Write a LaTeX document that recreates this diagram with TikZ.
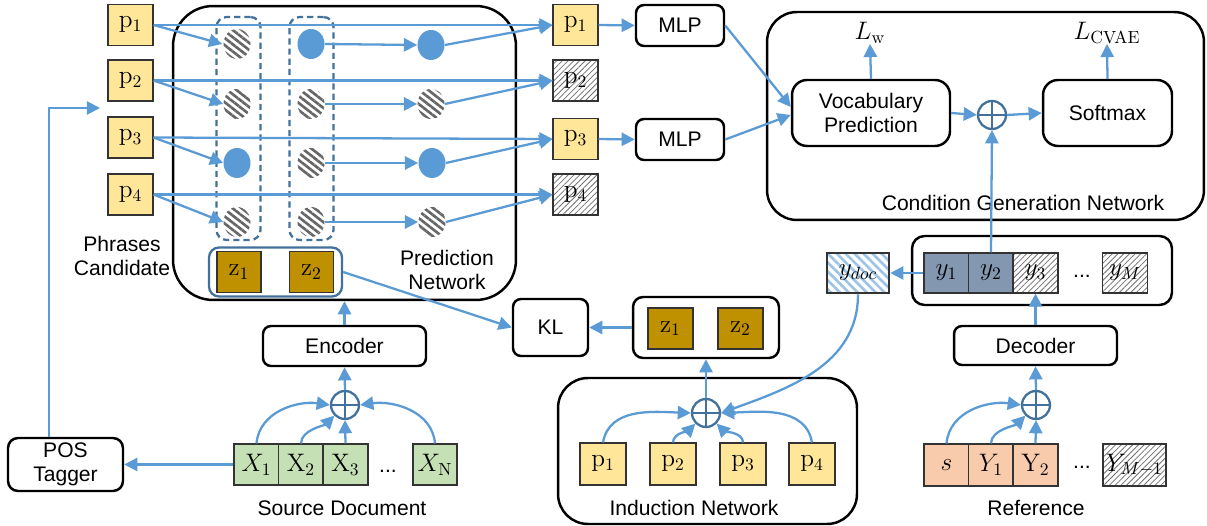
\documentclass[tikz,border=0pt]{standalone}
\usepackage[no-math]{fontspec}
\newfontfamily\arialf{Liberation Sans}
\usetikzlibrary{arrows.meta,patterns,patterns.meta,shapes.geometric,calc}
\definecolor{lineblue}{HTML}{5B9BD5}
\definecolor{darkblue}{HTML}{41719C}
\definecolor{pyellow}{HTML}{FFE699}
\definecolor{zgold}{HTML}{BF9000}
\definecolor{xgreen}{HTML}{C5E0B4}
\definecolor{ysalmon}{HTML}{F8CBAD}
\definecolor{yslate}{HTML}{8497B0}
\definecolor{docblue}{HTML}{9DC3E6}
\definecolor{hatchgray}{HTML}{707070}
\definecolor{stripegray}{HTML}{666666}
\newcommand{\labfont}{\arialf\fontsize{12}{14}\selectfont}
\newcommand{\mathsz}{\fontsize{14.5}{16}\selectfont}
\begin{document}
\begin{tikzpicture}[x=0.02cm, y=0.02cm,
  arr/.style={draw=lineblue, line width=1.3pt, -{Triangle[length=7.5pt,width=7.5pt]}},
  ln/.style={draw=lineblue, line width=1.3pt},
  bigbox/.style={draw=black, line width=1.4pt, rounded corners=#1, inner sep=0},
  sbox/.style={draw=black, line width=1.4pt, rounded corners=0.16cm, inner sep=0, font=\labfont, align=center},
  lbl/.style={font=\labfont, align=center, inner sep=0},
  cell/.style={draw=black!80, line width=0.6pt, inner sep=0, minimum width=0.9cm, minimum height=0.82cm, font=\mathsz},
  pcell/.style={cell, fill=pyellow},
  hcell/.style={cell, pattern={Lines[angle=45,distance=2.3pt,line width=0.45pt]}, pattern color=hatchgray},
  zcell/.style={cell, fill=zgold},
  xcell/.style={cell, fill=xgreen},
  rcell/.style={cell, fill=ysalmon},
  ycell/.style={cell, fill=yslate},
  dotnode/.style={ellipse, inner sep=0, minimum width=0.54cm, minimum height=0.6cm},
  bdot/.style={dotnode, fill=lineblue},
  sdot/.style={dotnode, pattern={Lines[angle=-38,distance=3.2pt,line width=1.5pt]}, pattern color=stripegray},
  dashcol/.style={draw=darkblue, line width=1.3pt, dash pattern=on 3.5pt off 2.3pt, rounded corners=0.2cm, inner sep=0, minimum width=0.88cm, minimum height=4.46cm},
  oplus/.style={circle, draw=darkblue, line width=1.3pt, minimum size=0.56cm, inner sep=0,
    path picture={\draw[darkblue, line width=1.3pt] (path picture bounding box.north) -- (path picture bounding box.south) (path picture bounding box.west) -- (path picture bounding box.east);}}
]
\fill[white] (0,0) rectangle (1207,-526);
\useasboundingbox (0,0) rectangle (1207,-526);

% ---------- Prediction network ----------
\node[bigbox=0.8cm, minimum width=6.86cm, minimum height=5.88cm] (pred) at (344.5,-153) {};
\node[dashcol] (col1) at (238.5,-128.5) {};
\node[dashcol] (col2) at (311.5,-128.5) {};

\node[pcell] (pl1) at (130.5,-25) {$\mathrm{p}_1$};
\node[pcell] (pl2) at (130.5,-80.5) {$\mathrm{p}_2$};
\node[pcell] (pl3) at (130.5,-137.5) {$\mathrm{p}_3$};
\node[pcell] (pl4) at (130.5,-194.5) {$\mathrm{p}_4$};

\node[sdot] (a1) at (237,-44) {};
\node[sdot] (a2) at (237,-104) {};
\node[bdot] (a3) at (237,-163) {};
\node[sdot] (a4) at (237,-222) {};
\node[bdot] (b1) at (311,-44) {};
\node[sdot] (b2) at (311,-104) {};
\node[sdot] (b3) at (311,-163) {};
\node[sdot] (b4) at (311,-222) {};
\node[bdot] (c1) at (431,-45) {};
\node[sdot] (c2) at (431,-104) {};
\node[bdot] (c3) at (432,-163) {};
\node[sdot] (c4) at (432,-222) {};

\node[pcell] (pr1) at (575.5,-25) {$\mathrm{p}_1$};
\node[hcell] (pr2) at (575.5,-80.5) {$\mathrm{p}_2$};
\node[pcell] (pr3) at (575.5,-139) {$\mathrm{p}_3$};
\node[hcell] (pr4) at (575.5,-194.5) {$\mathrm{p}_4$};

\node[draw=darkblue, line width=1.3pt, rounded corners=0.2cm, inner sep=0, minimum width=2.66cm, minimum height=0.98cm] (pz) at (275.5,-272) {};
\node[zcell, minimum width=0.88cm] (pz1) at (239,-272) {$\mathrm{z}_1$};
\node[zcell, minimum width=0.88cm] (pz2) at (311.5,-272) {$\mathrm{z}_2$};

\node[lbl] (phr) at (122,-256) {Phrases\\Candidate};
\node[lbl] (prl) at (447,-270) {Prediction\\Network};

\foreach \i in {1,2,3,4}{
  \draw[arr] (pl\i.east) -- (pr\i.west);
  \draw[arr] (pl\i.east) -- (a\i.west);
  \draw[arr] (b\i.east) -- (c\i.west);
  \draw[arr] (c\i.east) -- (pr\i.west);
}

% ---------- MLPs and condition generation ----------
\node[sbox, minimum width=1.76cm, minimum height=0.82cm] (mlp1) at (680,-25.5) {MLP};
\node[sbox, minimum width=1.76cm, minimum height=0.82cm] (mlp2) at (680,-139.5) {MLP};
\draw[arr] (pr1.east) -- (mlp1.west);
\draw[arr] (pr3.east) -- (mlp2.west);

\node[bigbox=0.6cm, minimum width=8.74cm, minimum height=4.16cm] (cond) at (985.5,-116) {};
\node[lbl] (condl) at (1023,-203) {Condition Generation Network};
\node[sbox, rounded corners=0.3cm, minimum width=3.16cm, minimum height=1.32cm] (voc) at (871,-113) {Vocabulary\\Prediction};
\node[sbox, rounded corners=0.3cm, minimum width=2.58cm, minimum height=1.32cm] (soft) at (1107.5,-113) {Softmax};
\node[oplus] (o1) at (992,-115) {};
\node[inner sep=0, font=\mathsz] (lw) at (870,-33) {$L_{\mathrm{w}}$};
\node[inner sep=0, font=\mathsz] (lc) at (1107,-33) {$L_{\mathrm{CVAE}}$};
\draw[arr] (mlp1.east) -- ($(voc.west)+(0,6)$);
\draw[arr] (mlp2.east) -- ($(voc.west)+(0,-2)$);
\draw[arr] (voc.east) -- (o1.west);
\draw[arr] (o1.east) -- (soft.west);
\draw[arr] (voc.north) -- (lw.south);
\draw[arr] (soft.north) -- (lc.south);

% ---------- Decoder side ----------
\node[bigbox=0.25cm, minimum width=5.2cm, minimum height=1.38cm] (yout) at (1042,-270.5) {};
\node[ycell, minimum height=0.8cm] (y1) at (946.5,-273) {$y_1$};
\node[ycell, minimum height=0.8cm] (y2) at (991,-273) {$y_2$};
\node[hcell, minimum height=0.8cm] (y3) at (1035.5,-273) {$y_3$};
\node[lbl] (ydots) at (1082,-276) {...};
\node[hcell, minimum height=0.8cm] (ym) at (1125,-273) {$y_M$};
\node[cell, minimum width=1.24cm, minimum height=0.8cm, pattern={Lines[angle=-45,distance=3.6pt,line width=1.5pt]}, pattern color=docblue] (ydoc) at (858,-273) {$y_{doc}$};
\draw[arr] (y1.west) -- (ydoc.east);
\draw[arr] (y2.north) -- (o1.south);

\node[sbox, minimum width=3.26cm, minimum height=0.78cm] (dec) at (1035.5,-345.5) {Decoder};
\draw[arr] (dec.north) -- (y3.south);
\node[oplus] (o3) at (1036,-405) {};
\draw[arr] (o3.north) -- (dec.south);
\node[rcell, minimum height=0.84cm] (s) at (946.5,-465) {$s$};
\node[rcell, minimum height=0.84cm] (r1) at (991,-465) {$Y_1$};
\node[rcell, minimum height=0.84cm] (r2) at (1035.5,-465) {$\mathrm{Y}_2$};
\node[lbl] (rdots) at (1082,-467) {...};
\node[hcell, minimum width=1.26cm, minimum height=0.84cm] (rm) at (1134.5,-465) {$Y_{M-1}$};
\node[lbl] (refl) at (1036,-508) {Reference};
\draw[arr] (s.north) to[out=85,in=172] (o3.west);
\draw[arr] (r1.north) to[out=90,in=225,looseness=0.8] (o3.south west);
\draw[arr] (r2.north) -- (o3.south);

% ---------- Induction network ----------
\node[bigbox=0.6cm, minimum width=5.98cm, minimum height=2.92cm] (ind) at (707.5,-451) {};
\node[lbl] (indl) at (694,-508) {Induction Network};
\node[pcell, minimum width=0.92cm, minimum height=0.84cm] (ip1) at (603,-464) {$\mathrm{p}_1$};
\node[pcell, minimum width=0.92cm, minimum height=0.84cm] (ip2) at (673,-464) {$\mathrm{p}_2$};
\node[pcell, minimum width=0.92cm, minimum height=0.84cm] (ip3) at (743,-464) {$\mathrm{p}_3$};
\node[pcell, minimum width=0.92cm, minimum height=0.84cm] (ip4) at (812,-464) {$\mathrm{p}_4$};
\node[oplus] (o2) at (706,-413) {};
\draw[arr] (ip1.north) to[out=80,in=178] (o2.west);
\draw[arr] (ip2.north) to[out=90,in=225,looseness=0.8] (o2.south west);
\draw[arr] (ip3.north) to[out=90,in=-45,looseness=0.8] (o2.south east);
\draw[arr] (ip4.north) to[out=100,in=2] (o2.east);
\draw[arr] (ydoc.south) to[out=-90,in=20] (o2.east);

\node[bigbox=0.2cm, minimum width=2.92cm, minimum height=1.22cm] (iz) at (706,-327.5) {};
\node[zcell] (iz1) at (670.5,-328.5) {$\mathrm{z}_1$};
\node[zcell] (iz2) at (740.5,-328.5) {$\mathrm{z}_2$};
\draw[arr] (o2.north) -- (iz.south);
\node[sbox, minimum width=1.5cm, minimum height=1.14cm] (kl) at (550.5,-327.5) {KL};
\draw[arr] (iz.west) -- (kl.west -| kl.east);
\draw[arr] (pz.east) -- (kl.west);

% ---------- Source side ----------
\node[sbox, minimum width=3.26cm, minimum height=0.8cm] (enc) at (344.5,-346) {Encoder};
\draw[arr] (enc.north) -- (pred.south);
\node[oplus] (o4) at (345,-405) {};
\draw[arr] (o4.north) -- (enc.south);
\node[xcell] (x1) at (256.5,-464.5) {$X_1$};
\node[xcell] (x2) at (301,-464.5) {$\mathrm{X}_2$};
\node[xcell] (x3) at (345.5,-464.5) {$\mathrm{X}_3$};
\node[lbl] (xdots) at (388,-471) {...};
\node[xcell, minimum width=0.88cm] (xn) at (435,-464.5) {$X_{\mathrm{N}}$};
\node[lbl] (srcl) at (342,-508) {Source Document};
\draw[arr] (x1.north) to[out=85,in=172] (o4.west);
\draw[arr] (x2.north) to[out=90,in=225,looseness=0.8] (o4.south west);
\draw[arr] (x3.north) -- (o4.south);
\draw[arr] (xn.north) to[out=95,in=8] (o4.east);

\node[sbox, rounded corners=0.2cm, minimum width=2.3cm, minimum height=1.06cm] (pos) at (65.5,-464.5) {POS\\Tagger};
\draw[arr] (x1.west) -- (pos.east);
\coordinate (posbend) at (49,-108);
\coordinate (posend) at (100,-108);
\draw[arr] (posbend |- pos.north) -- (posbend) -- (posend);
\end{tikzpicture}
\end{document}
